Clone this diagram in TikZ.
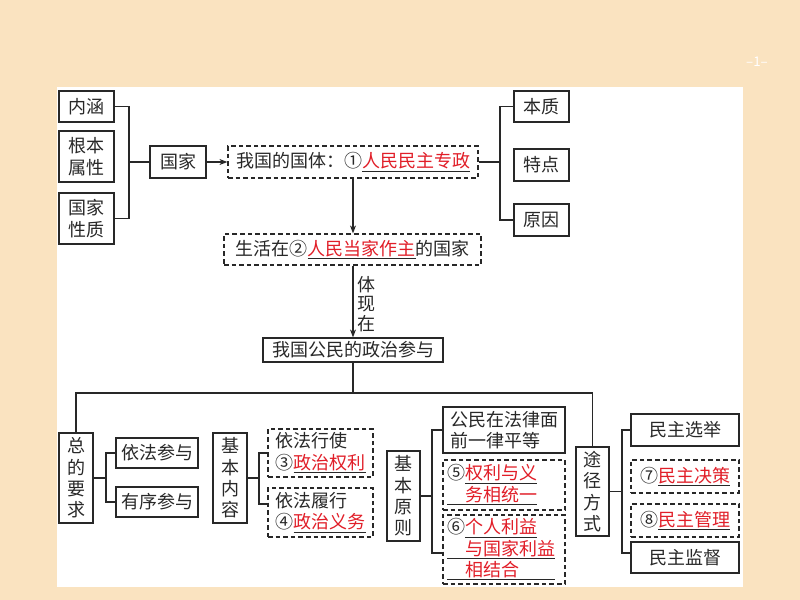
\documentclass[tikz,border=0pt]{standalone}
\usepackage{fontspec}
\setmainfont{Noto Sans CJK SC}
\usetikzlibrary{arrows.meta}
\definecolor{bg}{RGB}{250,227,192}
\definecolor{ink}{RGB}{40,40,40}
\definecolor{hl}{RGB}{225,30,40}
\newcommand{\redu}[1]{\underline{\textcolor{hl}{#1}}}
\begin{document}
\begin{tikzpicture}[x=0.75pt, y=-0.75pt,
  font=\fontsize{13.5}{16}\selectfont, text=ink,
  bx/.style={draw=ink, line width=0.9pt, inner sep=0pt, align=center},
  dbx/.style={bx, dash pattern=on 3.5pt off 2.2pt},
  wh/.style 2 args={minimum width=#1*0.75pt, minimum height=#2*0.75pt},
  ln/.style={draw=ink, line width=0.9pt},
  arr/.style={ln, -{Stealth[length=6pt,width=4.5pt]}}]
\useasboundingbox (0,0) rectangle (800,600);
\fill[bg] (0,0) rectangle (800,600);
\fill[white] (57,87) rectangle (743,587);
\node[text=white, font=\fontsize{10}{10}\selectfont] (pg) at (757,62) {--1--};
% top part
\node[bx, wh={55}{31}] (neihan) at (86.5,106.5) {内涵};
\node[bx, wh={55}{51}] (genben) at (86.5,156.5) {根本\\属性};
\node[bx, wh={55}{51}] (gjxz) at (86.5,218.5) {国家\\性质};
\node[bx, wh={56}{32}] (guojia) at (178,162) {国家};
\node[dbx, wh={250}{32}] (guoti) at (353,162) {我国的国体：①\redu{人民民主专政}};
\node[bx, wh={55}{31}] (benzhi) at (541.5,106.5) {本质};
\node[bx, wh={55}{32}] (tedian) at (541.5,165) {特点};
\node[bx, wh={55}{32}] (yuanyin) at (541.5,220) {原因};
\node[dbx, wh={257}{31}] (shenghuo) at (352.5,249.5) {生活在②\redu{人民当家作主}的国家};
\node[bx, wh={180}{24}] (canyu) at (353,350) {我国公民的政治参与};
\node[align=center, inner sep=0pt, font=\fontsize{13.5}{14.5}\selectfont] (tixian) at (366,304) {体\\现\\在};
% bottom part
\node[bx, wh={34}{90}] (zong) at (76,478) {总\\的\\要\\求};
\node[bx, wh={82}{30}] (yifa) at (157,453) {依法参与};
\node[bx, wh={82}{30}] (youxu) at (157,502) {有序参与};
\node[bx, wh={34}{90}] (jbnr) at (230,478) {基\\本\\内\\容};
\node[dbx, wh={105}{48}, align=left] (xingshi) at (320.5,453) {依法行使\\③\redu{政治权利}};
\node[dbx, wh={105}{49}, align=left] (lvxing) at (320.5,512.5) {依法履行\\④\redu{政治义务}};
\node[bx, wh={33}{90}] (jbyz) at (403.5,496) {基\\本\\原\\则};
\node[bx, wh={122}{46}, align=left] (pingdeng) at (504,430) {公民在法律面\\前一律平等};
\node[dbx, wh={122}{50}, align=left, text width=85.5pt] (five) at (504,485) {⑤\redu{权利与义}\\\underline{\hphantom{⑤}\textcolor{hl}{务相统一}}};
\node[dbx, wh={122}{69}, align=left, text width=85.5pt] (six) at (504,549.5) {⑥\redu{个人利益}\\\underline{\hphantom{⑥}\textcolor{hl}{与国家利益}}\\\underline{\hphantom{⑥}\textcolor{hl}{相结合}\hphantom{利益}}};
\node[bx, wh={33}{89}] (tujing) at (592.5,491.5) {途\\径\\方\\式};
\node[bx, wh={108}{32}] (xuanju) at (685,430) {民主选举};
\node[dbx, wh={108}{33}] (juece) at (685,476.5) {⑦\redu{民主决策}};
\node[dbx, wh={108}{33}] (guanli) at (685,520.5) {⑧\redu{民主管理}};
\node[bx, wh={108}{31}] (jiandu) at (685,557.5) {民主监督};
% connectors
\coordinate (bl) at (129,162);
\draw[ln] (neihan.east) -| (bl) |- (gjxz.east);
\draw[ln] (bl) -- (guojia.west);
\draw[arr] (guojia.east) -- (guoti.west);
\coordinate (br) at (500,162);
\draw[ln] (guoti.east) -- (br);
\draw[ln] (benzhi.west) -| (br) |- (yuanyin.west);
\draw[arr] (guoti.south) -- (guoti.south |- shenghuo.north);
\draw[arr] (shenghuo.south -| canyu.north) -- (canyu.north);
\coordinate (hub) at (353,393);
\draw[ln] (canyu.south) -- (hub);
\draw[ln] (zong.north) |- (hub) -| (tujing.north);
\coordinate (b1) at (106,478);
\draw[ln] (zong.east) -- (b1);
\draw[ln] (yifa.west) -| (b1) |- (youxu.west);
\coordinate (b2) at (259,478);
\draw[ln] (jbnr.east) -- (b2);
\draw[ln] (xingshi.west) -| (b2) |- ([yshift=6.4pt]lvxing.west);
\coordinate (b3) at (432,496);
\draw[ln] (jbyz.east) -- (b3);
\draw[ln] (pingdeng.west) -| (b3) |- ([yshift=-2.6pt]six.west);
\coordinate (b4) at (622,491.5);
\draw[ln] (tujing.east) -- (b4);
\draw[ln] (xuanju.west) -| (b4) |- ([yshift=3.4pt]jiandu.west);
\end{tikzpicture}
\end{document}
